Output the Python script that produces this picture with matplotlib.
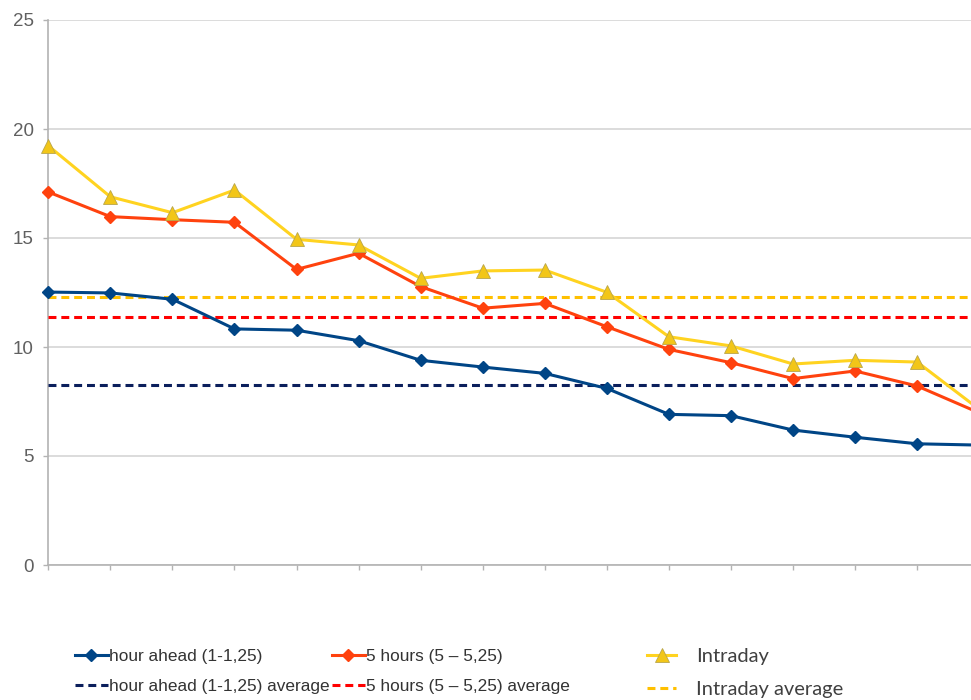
import numpy as np
import matplotlib.pyplot as plt

# forecast error per period, three horizons
periods = np.arange(16)
hour_ahead = [12.52, 12.48, 12.19, 10.83, 10.77, 10.29, 9.39, 9.08, 8.79, 8.10,
              6.91, 6.85, 6.19, 5.86, 5.56, 5.50]
five_hours = [17.11, 15.98, 15.84, 15.72, 13.56, 14.30, 12.77, 11.78, 12.00, 10.93,
              9.89, 9.28, 8.55, 8.90, 8.21, 6.98]
intraday = [19.23, 16.89, 16.16, 17.20, 14.94, 14.68, 13.15, 13.49, 13.53, 12.51,
            10.47, 10.05, 9.22, 9.39, 9.31, 7.14]

hour_ahead_avg = 8.27
five_hours_avg = 11.39
intraday_avg = 12.31

labels_left = ['hour ahead (1-1,25)', 'hour ahead (1-1,25) average']
labels_mid = ['5 hours (5 \u2013 5,25)', '5 hours (5 \u2013 5,25) average']
labels_right = ['Intraday', 'Intraday average']

plt.rcParams['font.family'] = ['Liberation Sans', 'DejaVu Sans']

fig = plt.figure(figsize=(9.71, 7), dpi=100)
# axes runs past the right edge of the canvas
ax = fig.add_axes([48.3 / 971, 135 / 700, 993 / 971, 545 / 700])

dash = (0, (2.6, 1.6))
l_ha, = ax.plot(periods, hour_ahead, color='#004586', lw=2.2, marker='D', ms=5.8,
                zorder=4, clip_on=False)
l_5h, = ax.plot(periods, five_hours, color='#ff420e', lw=2.2, marker='D', ms=5.8,
                zorder=4, clip_on=False)
l_id, = ax.plot(periods, intraday, color='#ffd320', lw=2.2, marker='^', ms=10,
                mfc='#f2c618', mec='#b9a64a', mew=0.6, zorder=4, clip_on=False)

a_ha = ax.axhline(hour_ahead_avg, color='#0b1f5c', lw=2.2, ls=dash, zorder=3)
a_5h = ax.axhline(five_hours_avg, color='#ff0000', lw=2.2, ls=dash, zorder=3)
a_id = ax.axhline(intraday_avg, color='#ffc000', lw=2.2, ls=dash, zorder=3)

ax.set_xlim(0, 16)
ax.set_ylim(0, 25)
ax.set_xticks(periods)
ax.set_xticklabels([])
ax.set_yticks([0, 5, 10, 15, 20, 25])
ax.yaxis.grid(True, color='#d9d9d9', lw=1.3)
ax.set_axisbelow(True)
for s in ['top', 'right']:
    ax.spines[s].set_visible(False)
for s in ['left', 'bottom']:
    ax.spines[s].set_color('#b3b3b3')
    ax.spines[s].set_linewidth(1.2)
ax.tick_params(axis='both', direction='out', length=3.6, color='#b3b3b3', width=1)
ax.tick_params(axis='y', labelsize=13.5, labelcolor='#606060', pad=7)

leg_kw = dict(frameon=False, borderpad=0, borderaxespad=0, loc='center left')
leg1 = fig.legend([l_ha, a_ha], labels_left, bbox_to_anchor=(75 / 971, 0.041),
                  handlelength=1.9, handletextpad=0.05, labelspacing=0.9,
                  prop={'family': 'Liberation Sans', 'size': 12.4},
                  labelcolor='#333333', **leg_kw)
leg2 = fig.legend([l_5h, a_5h], labels_mid, bbox_to_anchor=(332 / 971, 0.041),
                  handlelength=1.9, handletextpad=0.05, labelspacing=0.9,
                  prop={'family': 'Liberation Sans', 'size': 12.4},
                  labelcolor='#333333', **leg_kw)
leg3 = fig.legend([l_id, a_id], labels_right, bbox_to_anchor=(647 / 971, 0.039),
                  handlelength=1.45, handletextpad=1.0, labelspacing=0.8,
                  prop={'family': 'Lato', 'size': 14.5},
                  labelcolor='#404040', **leg_kw)

fig.savefig('out.png', dpi=100)
